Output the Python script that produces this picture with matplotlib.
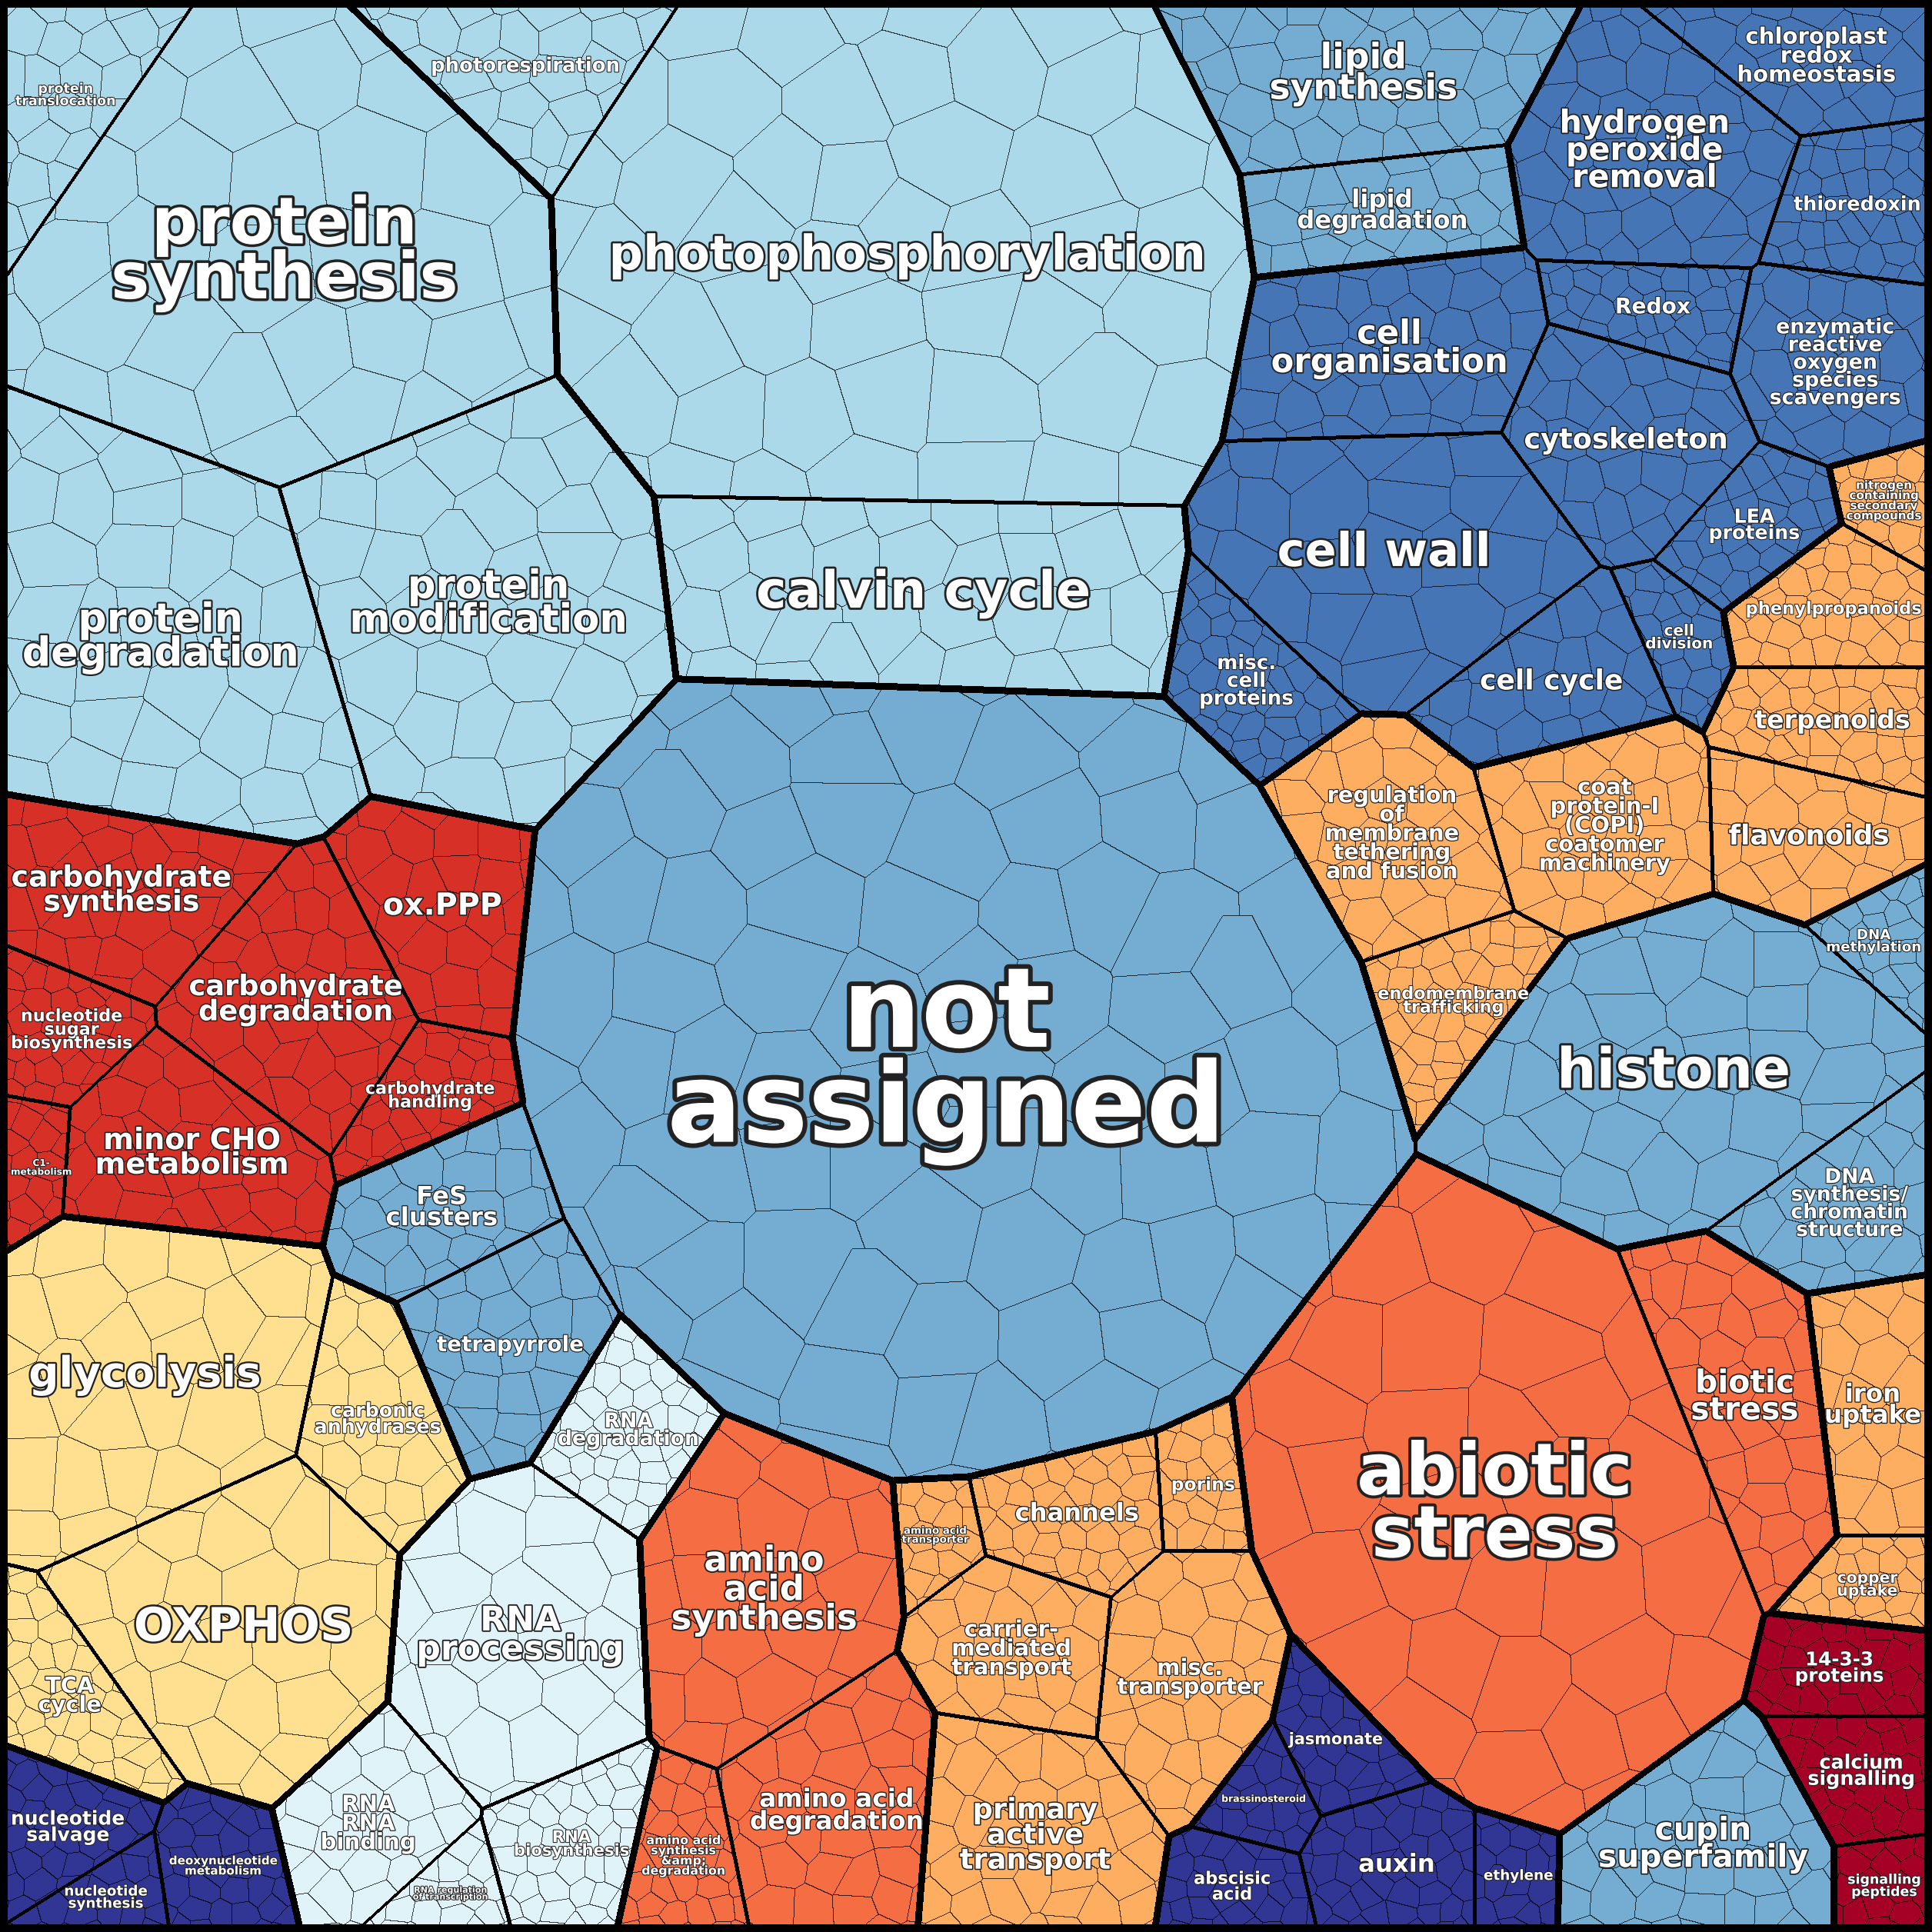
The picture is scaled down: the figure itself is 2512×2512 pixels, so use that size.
import numpy as np
import matplotlib
matplotlib.use('Agg')
import matplotlib.pyplot as plt
import matplotlib.patheffects as pe

# cells: name, group, area estimate (in 1568px reference units)
names = [
    'protein\nsynthesis', 'protein\ntranslocation', 'protein\nmodification', 'protein\ndegradation',
    'photophosphorylation', 'photorespiration', 'calvin cycle',
    'not\nassigned', 'histone', 'cupin\nsuperfamily', 'DNA\nsynthesis/\nchromatin\nstructure', 'FeS\nclusters',
    'tetrapyrrole', 'lipid\nsynthesis', 'lipid\ndegradation', 'DNA\nmethylation',
    'chloroplast\nredox\nhomeostasis', 'hydrogen\nperoxide\nremoval', 'thioredoxin',
    'enzymatic\nreactive\noxygen\nspecies\nscavengers', 'Redox', 'cell\norganisation', 'cytoskeleton',
    'cell wall', 'cell cycle', 'misc.\ncell\nproteins', 'LEA\nproteins', 'cell\ndivision',
    'nitrogen\ncontaining\nsecondary\ncompounds', 'phenylpropanoids', 'terpenoids', 'flavonoids',
    'coat\nprotein-I\n(COPI)\ncoatomer\nmachinery', 'regulation\nof\nmembrane\ntethering\nand fusion',
    'endomembrane\ntrafficking', 'channels', 'porins', 'carrier-\nmediated\ntransport', 'misc.\ntransporter',
    'primary\nactive\ntransport', 'amino acid\ntransporter', 'iron\nuptake', 'copper\nuptake',
    'abiotic\nstress', 'biotic\nstress', 'amino\nacid\nsynthesis', 'amino acid\ndegradation',
    'amino acid\nsynthesis\n&amp;\ndegradation',
    'carbohydrate\nsynthesis', 'ox.PPP', 'carbohydrate\ndegradation', 'nucleotide\nsugar\nbiosynthesis',
    'minor CHO\nmetabolism', 'C1-\nmetabolism', 'carbohydrate\nhandling',
    '14-3-3\nproteins', 'calcium\nsignalling', 'signalling\npeptides',
    'glycolysis', 'carbonic\nanhydrases', 'OXPHOS', 'TCA\ncycle',
    'RNA\nprocessing', 'RNA\ndegradation', 'RNA\nRNA\nbinding', 'RNA\nbiosynthesis', 'RNA regulation\nof transcription',
    'nucleotide\nsalvage', 'nucleotide\nsynthesis', 'deoxynucleotide\nmetabolism', 'auxin', 'abscisic\nacid',
    'jasmonate', 'brassinosteroid', 'ethylene',
]
groups = [
    'prot', 'prot', 'prot', 'prot', 'photo', 'photo', 'photo',
    'na', 'na', 'na', 'na', 'na', 'na', 'na', 'na', 'na',
    'redox', 'redox', 'redox', 'redox', 'redox', 'redox', 'redox', 'redox', 'redox', 'redox', 'redox', 'redox',
    'sec', 'sec', 'sec', 'sec', 'sec', 'sec', 'sec', 'sec', 'sec', 'sec', 'sec', 'sec', 'sec', 'sec', 'sec',
    'stress', 'stress', 'aa', 'aa', 'aa',
    'cho', 'cho', 'cho', 'cho', 'cho', 'cho', 'cho',
    'sig', 'sig', 'sig',
    'energy', 'energy', 'energy', 'energy',
    'rna', 'rna', 'rna', 'rna', 'rna',
    'nuc', 'nuc', 'nuc', 'horm', 'horm', 'horm', 'horm', 'horm',
]
areas = [
    170, 25, 110, 110, 280, 30, 85,
    500, 100, 40, 25, 25, 30, 50, 25, 10,
    25, 50, 20, 30, 15, 45, 35, 70, 25, 20, 15, 10,
    8, 20, 20, 25, 35, 35, 20, 20, 10, 25, 35, 40, 8, 25, 10,
    210, 40, 60, 40, 15,
    35, 30, 40, 15, 35, 8, 15,
    15, 15, 8,
    80, 25, 70, 20,
    60, 20, 25, 20, 8,
    15, 8, 15, 20, 12, 12, 8, 8,
]
# layout seeds (1568px units)
site_x = [
    270, 45, 395, 125, 810, 490, 805,
    790, 1395, 1385, 1515, 340, 380, 1185, 1200, 1530,
    1495, 1385, 1520, 1505, 1380, 1215, 1355, 1220, 1300, 1130, 1450, 1390,
    1540, 1495, 1495, 1480, 1320, 1215, 1250, 880, 955, 855, 955, 840, 810, 1530, 1530,
    1225, 1450, 630, 715, 570,
    90, 330, 205, 45, 130, 30, 305,
    1520, 1520, 1530,
    115, 285, 180, 60,
    425, 495, 300, 480, 350,
    40, 65, 130, 1090, 1005, 1070, 1020, 1160,
]
site_y = [
    290, 135, 600, 680, 270, 60, 550,
    970, 940, 1520, 1105, 1130, 1210, 80, 215, 790,
    50, 185, 230, 345, 320, 350, 410, 510, 615, 605, 495, 575,
    475, 555, 625, 690, 695, 725, 830, 1340, 1335, 1415, 1425, 1510, 1355, 1200, 1280,
    1300, 1210, 1370, 1500, 1530,
    885, 920, 985, 995, 1085, 1078, 1050,
    1370, 1445, 1520,
    1215, 1250, 1360, 1445,
    1380, 1280, 1490, 1510, 1545,
    1500, 1540, 1530, 1515, 1535, 1450, 1475, 1515,
]
group_colors = {
    'prot': '#abd9e9', 'photo': '#abd9e9', 'na': '#74add1', 'redox': '#4575b4',
    'sec': '#fdae61', 'stress': '#f46d43', 'aa': '#f46d43', 'cho': '#d73027',
    'sig': '#a50026', 'energy': '#fee090', 'rna': '#e0f3f8', 'nuc': '#313695', 'horm': '#313695',
}

N = 2512
K = len(names)
sx = np.array(site_x, float) / 1568
sy = np.array(site_y, float) / 1568
target = np.array(areas, float)
target = target / target.sum()


def assign(n, w):
    c = (np.arange(n, dtype=np.float32) + 0.5) / n
    out = np.empty((n, n), np.int32)
    step = 64
    for r0 in range(0, n, step):
        yy = c[r0:r0 + step][:, None, None]
        xx = c[None, :, None]
        d = (xx - sx[None, None, :].astype(np.float32)) ** 2 + (yy - sy[None, None, :].astype(np.float32)) ** 2
        d -= w[None, None, :].astype(np.float32)
        out[r0:r0 + step] = np.argmin(d, axis=2)
    return out


# fit power weights so cell areas match the data
n_low = 256
w = np.zeros(K)
for it in range(400):
    lab = assign(n_low, w)
    cnt = np.bincount(lab.ravel(), minlength=K) / n_low ** 2
    w += 0.8 * (target - cnt) / np.pi
lab_low = assign(n_low, w)

cells = assign(N, w)
grp_names = list(group_colors.keys())
grp_idx = np.array([grp_names.index(g) for g in groups])
grp_map = grp_idx[cells]


def hashf(a, b, k):
    v = np.sin(a * 12.9898 + b * 78.233 + k * 37.719) * 43758.5453
    return v - np.floor(v)


def fine_map(s):
    h = s * 0.866
    yy, xx = np.mgrid[0:N, 0:N].astype(np.float32)
    r0 = np.floor(yy / h)
    best = np.full((N, N), np.inf, np.float32)
    bid = np.zeros((N, N), np.int64)
    for dr in (-1, 0, 1):
        r = r0 + dr
        off = (r % 2) * 0.5 * s
        c0 = np.floor((xx - off) / s)
        for dc in (-1, 0, 1):
            c = c0 + dc
            px = c * s + off + (hashf(r, c, 1) - 0.5) * 0.7 * s
            py = r * h + (hashf(r, c, 2) - 0.5) * 0.7 * h
            d = (xx - px) ** 2 + (yy - py) ** 2
            m = d < best
            best[m] = d[m]
            bid[m] = (r[m].astype(np.int64) + 10) * 10000 + (c[m].astype(np.int64) + 10)
    return bid


cell_frac = np.bincount(lab_low.ravel(), minlength=K) / n_low ** 2
classes = np.array([35, 55, 85, 125])
spacing = np.sqrt(cell_frac) * N / 4.5
cls = np.argmin(np.abs(spacing[:, None] - classes[None, :]), axis=1)
fine = np.zeros((N, N), np.int64)
cls_map = cls[cells]
for k, s in enumerate(classes):
    if (cls == k).any():
        fm = fine_map(float(s))
        m = cls_map == k
        fine[m] = fm[m]
fine = fine + cells.astype(np.int64) * 10 ** 8


def edges(L):
    e = np.zeros(L.shape, bool)
    e[:, :-1] |= L[:, :-1] != L[:, 1:]
    e[:-1, :] |= L[:-1, :] != L[1:, :]
    return e


def dilate(e, r):
    out = e.copy()
    for dy in range(-r, r + 1):
        for dx in range(-r, r + 1):
            if dx * dx + dy * dy <= r * r:
                out |= np.roll(np.roll(e, dy, 0), dx, 1)
    return out


cols = np.array([matplotlib.colors.to_rgb(group_colors[g]) for g in grp_names])
img = cols[grp_map]
e_fine = edges(fine)
img[e_fine] = img[e_fine] * 0.25
img[dilate(edges(cells), 2)] = 0
img[dilate(edges(grp_map), 4)] = 0
b = 10
img[:b] = 0; img[-b:] = 0; img[:, :b] = 0; img[:, -b:] = 0

fig = plt.figure(figsize=(25.12, 25.12), dpi=100)
ax = fig.add_axes([0, 0, 1, 1])
ax.imshow(img, extent=(0, 1, 1, 0), interpolation='nearest')
ax.set_xlim(0, 1)
ax.set_ylim(1, 0)
ax.axis('off')

renderer = fig.canvas.get_renderer()
yy, xx = np.mgrid[0:n_low, 0:n_low]
for i in range(K):
    m = lab_low == i
    if not m.any():
        continue
    cx = (xx[m].mean() + 0.5) / n_low
    cy = (yy[m].mean() + 0.5) / n_low
    label = names[i]
    lines = label.split('\n')
    # cell width along the label row
    row = int(cy * n_low)
    width_px = m[row].sum() / n_low * N * 0.9
    fs = 300 * np.sqrt(cell_frac[i]) / (1 + 0.12 * (len(lines) - 1))
    fs = min(fs, width_px / (0.66 * 1.39 * max(len(l) for l in lines)))
    fs = max(8, min(150, fs))
    t = ax.text(cx, cy, label, ha='center', va='center',
                fontsize=fs, fontweight='bold', color='white', linespacing=0.85,
                path_effects=[pe.withStroke(linewidth=max(1.5, fs / 12), foreground='#222222')])
    bb = t.get_window_extent(renderer)
    dx = 0
    if bb.x0 < 14:
        dx = 14 - bb.x0
    elif bb.x1 > N - 14:
        dx = N - 14 - bb.x1
    dy = 0
    if bb.y0 < 14:
        dy = -(14 - bb.y0)
    elif bb.y1 > N - 14:
        dy = bb.y1 - (N - 14)
    t.set_position((cx + dx / N, cy + dy / N))

fig.savefig('out.png', dpi=100)
